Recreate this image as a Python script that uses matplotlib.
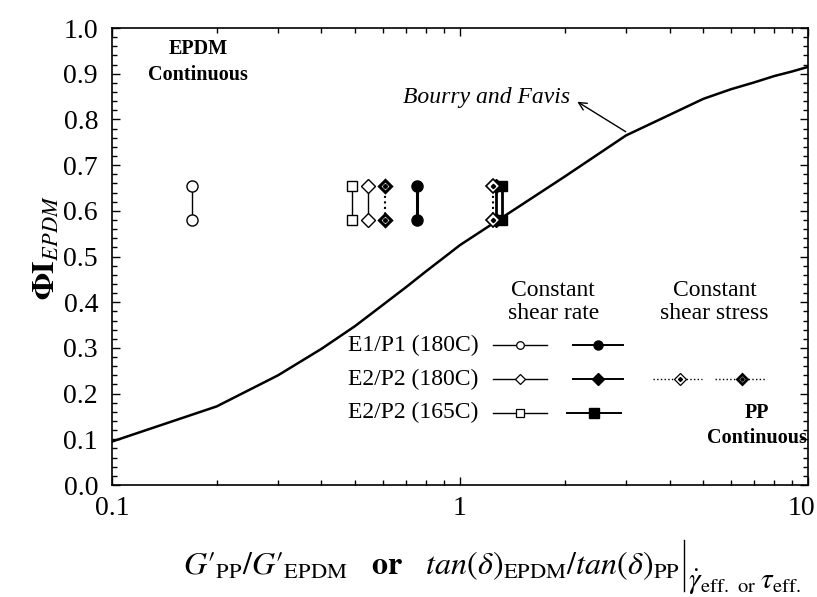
import numpy as np
import matplotlib.pyplot as plt
import matplotlib.transforms as mtransforms
from matplotlib.ticker import MultipleLocator, LogLocator, NullFormatter, FormatStrFormatter

plt.rcParams['font.family'] = ['Liberation Serif', 'DejaVu Serif']
plt.rcParams['mathtext.fontset'] = 'stix'

# Bourry and Favis prediction
bf_ratio = [0.1, 0.2, 0.3, 0.4, 0.5, 0.6, 0.7, 0.8, 0.9, 1.0,
            2.0, 3.0, 4.0, 5.0, 6.0, 7.0, 8.0, 9.0, 10.0]
bf_phi = [0.095, 0.172, 0.24, 0.298, 0.348, 0.394, 0.433, 0.468, 0.498, 0.525,
          0.675, 0.765, 0.81, 0.845, 0.866, 0.881, 0.895, 0.905, 0.915]

# onset of co-continuity: lower and upper EPDM fraction
phi_pair = [0.58, 0.655]

# viscoelastic ratio for each blend
e1p1_180_rate_open = 0.17
e2p2_165_rate_open = 0.489
e2p2_180_rate_open = 0.544
e2p2_180_stress_thick = 0.609
e1p1_180_rate_filled = 0.752
e2p2_180_stress_thin = 1.244
e2p2_180_rate_filled = 1.27
e2p2_165_rate_filled = 1.32

row_labels = ['E1/P1 (180C)', 'E2/P2 (180C)', 'E2/P2 (165C)']

fig = plt.figure(figsize=(8.17, 5.97), dpi=100)
ax = fig.add_axes([0.137, 0.1876, 0.852, 0.7654])

ax.plot(bf_ratio, bf_phi, color='black', lw=1.8, zorder=2)


def pair(ax, x, marker, fc, ls='-', lw=1.0, ms=7, mew=1.0, dot=False):
    xs = [x, x]
    ax.plot(xs, phi_pair, color='black', ls=ls, lw=lw, zorder=3)
    ax.plot(xs, phi_pair, ls='none', marker=marker, ms=ms, mfc=fc, mec='black',
            mew=mew, zorder=4)
    if dot:
        ax.plot(xs, phi_pair, ls='none', marker='D', ms=2.2, mfc='black',
                mec='black', zorder=5)


pair(ax, e1p1_180_rate_open, 'o', 'white', ms=8)
pair(ax, e2p2_165_rate_open, 's', 'white', ms=7.5)
pair(ax, e2p2_180_rate_open, 'D', 'white', ms=7)
pair(ax, e2p2_180_stress_thick, 'D', 'white', ls=':', lw=1.5, ms=6.5, mew=2.2, dot=True)
pair(ax, e1p1_180_rate_filled, 'o', 'black', lw=2.2, ms=8)
pair(ax, e2p2_165_rate_filled, 's', 'black', lw=2.0, ms=7)
pair(ax, e2p2_180_rate_filled, 'D', 'black', lw=2.0, ms=7)
pair(ax, e2p2_180_stress_thin, 'D', 'white', ls=':', lw=1.5, ms=7, mew=1.2, dot=True)

# key drawn inside the axes
tr = ax.transAxes
row_y = [0.306, 0.232, 0.158]
for lab, yy in zip(row_labels, row_y):
    ax.text(0.527, yy, lab, transform=tr, ha='right', va='center', fontsize=17)

key_open = [('o', 5.5), ('D', 5.5), ('s', 5.5)]
key_filled = [('o', 6.5), ('D', 6.5), ('s', 6.5)]
for (m, s), yy in zip(key_open, row_y):
    ax.plot([0.547, 0.625], [yy, yy], color='black', lw=1.0, transform=tr)
    ax.plot([0.586], [yy], marker=m, ms=s, mfc='white', mec='black', mew=0.9,
            transform=tr, ls='none')
for (m, s), yy in zip(key_filled, row_y):
    x0 = 0.654 if m == 's' else 0.662
    x1 = 0.731 if m == 's' else 0.734
    ax.plot([x0, x1], [yy, yy], color='black', lw=1.4, transform=tr)
    ax.plot([(x0 + x1) / 2], [yy], marker=m, ms=s, mfc='black', mec='black',
            transform=tr, ls='none')

yy = row_y[1]
ax.plot([0.777, 0.848], [yy, yy], color='black', ls=':', lw=1.0, transform=tr)
ax.plot([0.816], [yy], marker='D', ms=6, mfc='white', mec='black', mew=0.9,
        transform=tr, ls='none')
ax.plot([0.816], [yy], marker='D', ms=2, mfc='black', mec='black',
        transform=tr, ls='none')
ax.plot([0.866, 0.938], [yy, yy], color='black', ls=':', lw=1.0, transform=tr)
ax.plot([0.905], [yy], marker='D', ms=5.5, mfc='white', mec='black', mew=2.0,
        transform=tr, ls='none')
ax.plot([0.905], [yy], marker='D', ms=1.8, mfc='black', mec='black',
        transform=tr, ls='none')

ax.text(0.634, 0.40, 'Constant\nshear rate', transform=tr, ha='center',
        va='center', fontsize=17, linespacing=1.15)
ax.text(0.866, 0.40, 'Constant\nshear stress', transform=tr, ha='center',
        va='center', fontsize=17, linespacing=1.15)

ax.text(0.177, 0.926, 'EPDM\nContinuous', ha='center', va='center',
        fontsize=14.5, fontweight='bold', linespacing=1.4)
ax.text(7.15, 0.13, 'PP\nContinuous', ha='center', va='center',
        fontsize=14.5, fontweight='bold', linespacing=1.3)

ax.text(1.19, 0.849, 'Bourry and Favis', fontsize=17, style='italic',
        ha='center', va='center')
ax.annotate('', xy=(2.14, 0.842), xytext=(3.04, 0.77),
            arrowprops=dict(arrowstyle='->', color='black', lw=1.0,
                            mutation_scale=14))

ax.set_xscale('log')
ax.set_xlim(0.1, 10)
ax.set_ylim(0.0, 1.0)
ax.yaxis.set_major_locator(MultipleLocator(0.1))
ax.yaxis.set_minor_locator(MultipleLocator(0.02))
ax.yaxis.set_major_formatter(FormatStrFormatter('%.1f'))
ax.set_xticks([0.1, 1, 10])
ax.set_xticklabels(['0.1', '1', '10'])
ax.xaxis.set_minor_locator(LogLocator(base=10, subs=np.arange(2, 10), numticks=20))
ax.xaxis.set_minor_formatter(NullFormatter())

ax.tick_params(which='both', direction='in', top=True, right=True,
               labelsize=20, width=1.0)
ax.tick_params(which='major', length=6)
ax.tick_params(axis='y', which='major', pad=10)
ax.tick_params(axis='x', which='major', pad=8)
ax.tick_params(which='minor', length=3.5)
for sp in ax.spines.values():
    sp.set_linewidth(1.2)

# keep the "10" label inside the canvas
last = ax.get_xticklabels()[-1]
last.set_transform(last.get_transform() +
                   mtransforms.ScaledTranslation(-7 / 100, 0, fig.dpi_scale_trans))

ax.set_ylabel(r'$\mathbf{\Phi I}_{EPDM}$', fontsize=23)
ax.yaxis.set_label_coords(-0.072, 0.52)

# x label: ratio, then an evaluation bar with its subscript
xl = fig.text(183 / 817, 1 - 566 / 597,
              "$G\u2032_{\\mathrm{PP}}/G\u2032_{\\mathrm{EPDM}}$   $\\mathbf{or}$   "
              r"$tan(\delta)_{\mathrm{EPDM}}/tan(\delta)_{\mathrm{PP}}$",
              ha='left', va='center', fontsize=23)
fig.canvas.draw()
bb = xl.get_window_extent()
bar_x = (bb.x1 + 4) / fig.bbox.width
fig.add_artist(plt.Line2D([bar_x, bar_x], [1 - 540 / 597, 1 - 591 / 597],
                          color='black', lw=1.0, transform=fig.transFigure))
fig.text(bar_x + 4 / 817, 1 - 582 / 597,
         r"$\dot{\gamma}_{\mathrm{eff.}}{}_{\mathrm{\ or\ }}\tau_{\mathrm{eff.}}$",
         ha='left', va='center', fontsize=21)

fig.savefig('out.png', dpi=100)
